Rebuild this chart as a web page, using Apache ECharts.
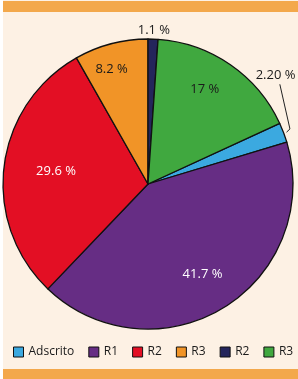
<!DOCTYPE html>
<html>
<head>
<meta charset="utf-8">
<script src="https://cdn.jsdelivr.net/npm/echarts@6/dist/echarts.min.js"></script>
<style>
html,body{margin:0;padding:0;background:#ffffff;}
#chart{width:298px;height:379px;}
</style>
</head>
<body>
<div id="chart"></div>
<script>
// ---- data ----
var categories = ['Adscrito', 'R1', 'R2', 'R3', 'R2', 'R3'];
var values = [2.20, 41.7, 29.6, 8.2, 1.1, 17];
var labelTexts = ['2.20 %', '41.7 %', '29.6 %', '8.2 %', '1.1 %', '17 %'];

// ---- style / layout ----
var colors = ['#3BA9E0', '#662D84', '#E30F24', '#F19427', '#24255B', '#40A83F'];
var labelColors = ['#1a1a1a', '#fff', '#fff', '#1a1a1a', '#1a1a1a', '#1a1a1a'];
var CX = 148, CY = 184, R = 145;
// label placement: [angle clockwise from top (deg), radius factor]
var labelPolar = [[49.5, 1.157], [149, 0.73], [277.6, 0.64], [342.4, 0.83], [2.2, 1.06], [31, 0.76]];
var leaderPolar = [[69.5, 1.02], [68.8, 1.05], [52.9, 1.14]];

function polar(a, k) {
  var t = a * Math.PI / 180;
  return [CX + k * R * Math.sin(t), CY - k * R * Math.cos(t)];
}

// unique internal names so repeated categories each get a legend entry
var seen = {};
var names = categories.map(function (c) {
  seen[c] = (seen[c] || 0) + 1;
  return c + '|' + seen[c];
});

var chart = echarts.init(document.getElementById('chart'), null, {renderer: 'canvas'});

var data = categories.map(function (c, i) {
  var outside = (i === 0 || i === 4);
  return {
    name: names[i],
    value: values[i],
    itemStyle: {color: colors[i]},
    label: {
      position: outside ? 'outside' : 'inside',
      color: labelColors[i],
      formatter: labelTexts[i],
      overflow: 'none'
    },
    labelLine: {show: i === 0, length: 2, length2: 2, lineStyle: {color: '#222', width: 1}}
  };
});

var option = {
  animation: false,
  graphic: [
    {type: 'rect', shape: {x: 3, y: 0, width: 295, height: 379}, style: {fill: '#FDF1E4'}, z: -10},
    {type: 'rect', shape: {x: 3, y: 1, width: 295, height: 11}, style: {fill: '#F3A84B'}, z: -9},
    {type: 'rect', shape: {x: 3, y: 369, width: 295, height: 10}, style: {fill: '#F3A84B'}, z: -9}
  ],
  legend: {
    left: 13,
    top: 346,
    width: 295,
    padding: 0,
    itemWidth: 10,
    itemHeight: 10,
    itemGap: 14,
    icon: 'rect',
    formatter: function (n) { return n.split('|')[0]; },
    textStyle: {fontFamily: 'Open Sans', fontSize: 12, color: '#1a1a1a'},
    itemStyle: {borderColor: '#111', borderWidth: 1},
    data: names.map(function (n, i) { return {name: n, itemStyle: {color: colors[i]}}; })
  },
  series: [{
    type: 'pie',
    center: [CX, CY],
    radius: [0, R],
    startAngle: 24.7,
    clockwise: true,
    avoidLabelOverlap: false,
    itemStyle: {borderColor: '#111', borderWidth: 1.3},
    label: {fontFamily: 'Open Sans', fontSize: 13, overflow: 'none'},
    emphasis: {disabled: true},
    data: data,
    labelLayout: function (params) {
      var i = params.dataIndex;
      var p = polar(labelPolar[i][0], labelPolar[i][1]);
      var res = {x: p[0], y: p[1], align: 'center', verticalAlign: 'middle'};
      if (i === 0) {
        res.labelLinePoints = leaderPolar.map(function (q) { return polar(q[0], q[1]); });
      }
      return res;
    }
  }]
};
chart.setOption(option);
</script>
</body>
</html>
